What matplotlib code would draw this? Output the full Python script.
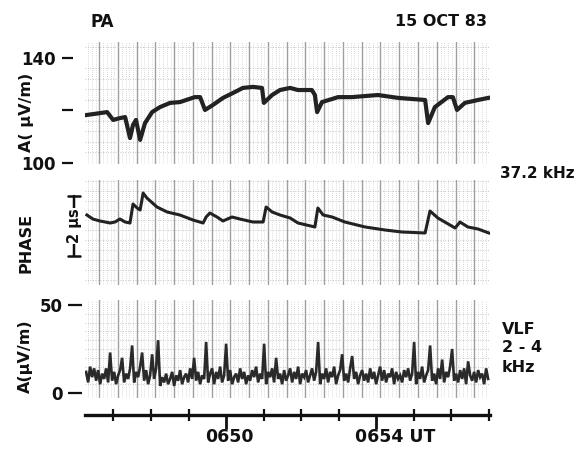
import numpy as np
import matplotlib
matplotlib.use("Agg")
import matplotlib.pyplot as plt
from matplotlib.ticker import MultipleLocator, FixedLocator, NullFormatter
import matplotlib.transforms as mtransforms

# ---------------- data (read from the recording) ----------------
# time in minutes after 06:00 UT
amp_t = [46.29, 46.64, 46.83, 46.99, 47.17, 47.31, 47.44, 47.52, 47.60, 47.71,
         47.84, 48.03, 48.24, 48.51, 48.77, 49.17, 49.31, 49.44, 49.65, 49.92,
         50.19, 50.45, 50.72, 50.96, 51.01, 51.23, 51.44, 51.71, 51.92, 52.29,
         52.37, 52.43, 52.56, 52.99, 53.36, 54.05, 54.59, 55.31, 55.39, 55.57,
         55.92, 56.05, 56.16, 56.37, 56.72, 56.99]
amp_v = [118.3, 119.0, 119.4, 116.4, 117.1, 117.5, 109.5, 114.5, 116.4, 108.8,
         115.2, 119.4, 121.3, 122.9, 123.2, 125.1, 125.1, 120.2, 122.1, 124.8,
         126.7, 128.6, 129.0, 128.6, 122.9, 125.9, 127.8, 128.6, 127.8, 127.8,
         125.9, 119.4, 123.2, 125.1, 125.1, 125.9, 124.8, 124.0, 115.2, 121.3,
         125.1, 125.1, 120.2, 122.9, 124.0, 124.8]

phase_t = [46.29, 46.45, 46.64, 46.91, 47.04, 47.17, 47.31, 47.44, 47.52, 47.63,
           47.71, 47.79, 47.89, 48.16, 48.43, 48.77, 49.12, 49.39, 49.47, 49.57,
           49.76, 49.92, 50.16, 50.37, 50.72, 50.99, 51.07, 51.23, 51.44, 51.71,
           51.92, 52.37, 52.45, 52.59, 52.83, 53.17, 53.71, 54.24, 54.69, 55.31,
           55.44, 55.65, 56.11, 56.24, 56.45, 56.72, 57.01]
phase_us = [1.167, 1.033, 0.967, 0.900, 0.933, 1.033, 0.933, 0.900, 1.533, 1.400,
            1.333, 1.900, 1.733, 1.433, 1.267, 1.167, 1.000, 0.900, 1.100, 1.233,
            1.100, 0.967, 1.100, 1.033, 0.933, 0.933, 1.433, 1.267, 1.167, 1.067,
            0.900, 0.767, 1.400, 1.167, 1.100, 0.933, 0.767, 0.667, 0.600, 0.567,
            1.300, 1.067, 0.733, 0.933, 0.767, 0.700, 0.567]

# VLF 2-4 kHz amplitude (uV/m), evenly sampled from 06:46.3 to 06:57.0
vlf_start, vlf_end = 46.27, 56.99
vlf_v = [12, 6, 15, 9, 14, 7, 13, 5, 11, 8, 14, 6, 23, 7, 12, 5, 10, 13, 20, 6,
         11, 8, 14, 27, 6, 12, 9, 15, 23, 7, 13, 5, 10, 22, 8, 14, 30, 4, 9, 6,
         11, 5, 8, 12, 4, 10, 7, 13, 5, 9, 11, 6, 14, 8, 20, 7, 12, 5, 10, 8,
         29, 6, 11, 14, 5, 12, 8, 15, 6, 10, 28, 7, 13, 5, 9, 11, 6, 14, 8, 12,
         5, 10, 7, 13, 9, 15, 6, 11, 8, 28, 5, 12, 9, 14, 6, 20, 8, 11, 5, 13,
         7, 10, 14, 6, 12, 8, 15, 5, 11, 9, 13, 6, 10, 14, 7, 12, 29, 5, 11, 8,
         14, 6, 12, 9, 15, 5, 10, 13, 22, 7, 11, 6, 14, 21, 8, 12, 5, 10, 13, 7,
         11, 6, 14, 8, 12, 5, 10, 15, 7, 13, 6, 11, 9, 14, 5, 12, 8, 10, 6, 13,
         9, 14, 7, 11, 29, 5, 12, 8, 15, 6, 10, 13, 27, 7, 11, 5, 14, 8, 19, 6,
         12, 9, 15, 25, 7, 11, 6, 13, 8, 14, 5, 18, 10, 7, 12, 6, 13, 9, 11, 5, 14, 8]

time_minor = [47, 48, 49, 51, 52, 53, 55, 56, 57]
time_major = [50, 54]
time_labels = ["0650", "0654 UT"]

# ---------------- figure ----------------
W, H = 582, 449
fig = plt.figure(figsize=(W / 100, H / 100), dpi=100)
fig.patch.set_facecolor("white")
FONT = dict(family="DejaVu Sans", fontweight="bold", color="#111111")


def rect(x0, y0, x1, y1):
    return [x0 / W, 1 - y1 / H, (x1 - x0) / W, (y1 - y0) / H]


XMIN, XMAX = 46.24, 57.04
paper_lines = np.arange(46.62, 57.0, 0.5)
paper_fine = np.arange(46.32, 57.0, 0.1)


def paper(ax, ystep):
    for s in ax.spines.values():
        s.set_visible(False)
    ax.set_xlim(XMIN, XMAX)
    ax.xaxis.set_major_locator(FixedLocator(paper_lines))
    ax.xaxis.set_minor_locator(FixedLocator(paper_fine))
    ax.xaxis.set_major_formatter(NullFormatter())
    ax.tick_params(axis="x", which="both", length=0)
    ax.grid(which="major", axis="x", color="#7f7f7f", lw=1.0, alpha=0.75)
    ax.grid(which="minor", axis="x", color="#bbbbbb", lw=0.5, ls=(0, (1, 2)))
    ax.yaxis.set_minor_locator(MultipleLocator(ystep))
    ax.grid(which="minor", axis="y", color="#b5b5b5", lw=0.6, ls=(0, (1, 2)))
    ax.tick_params(axis="y", which="minor", length=0)
    ax.set_axisbelow(True)


# --- top: amplitude 37.2 kHz ---
ax1 = fig.add_axes(rect(85, 42, 490, 164))
paper(ax1, 4)
ax1.set_ylim(100 + (163 - 164) / 2.625, 100 + (163 - 42) / 2.625)
ax1.plot(amp_t, amp_v, color="#222222", lw=3.0, solid_joinstyle="round")
ax1.set_yticks([100, 120, 140], labels=["100", "", "140"])
ax1.spines["left"].set_position(("outward", 9))
ax1.tick_params(axis="y", which="major", length=8, width=1.6, pad=4,
                labelsize=12, colors="#111111")
for lab in ax1.get_yticklabels():
    lab.set_fontweight("bold")

# --- middle: phase ---
ax2 = fig.add_axes(rect(85, 180, 490, 285))
paper(ax2, 0.33)
ax2.set_ylim((250 - 285) / 30, (250 - 180) / 30)
ax2.plot(phase_t, phase_us, color="#222222", lw=2.2, solid_joinstyle="round")
ax2.set_yticks([])
trans2 = mtransforms.blended_transform_factory(ax2.transAxes, ax2.transData)
xa = (74 - 85) / 405
ax2.annotate("", xy=(xa, 1.8), xytext=(xa, -0.2), xycoords=trans2,
             textcoords=trans2,
             arrowprops=dict(arrowstyle="|-|", lw=1.8, color="#111111",
                             mutation_scale=4, shrinkA=0, shrinkB=0),
             annotation_clip=False)
ax2.text(xa, 0.8, "2 µs", transform=trans2, rotation=90, ha="center",
         va="center", fontsize=10.5, clip_on=False,
         bbox=dict(facecolor="white", edgecolor="none", pad=0.5), **FONT)

# --- bottom: VLF 2-4 kHz ---
ax3 = fig.add_axes(rect(85, 300, 490, 398))
paper(ax3, 5)
ax3.set_ylim((393 - 398) / 1.76, (393 - 300) / 1.76)
vlf_t = np.linspace(vlf_start, vlf_end, len(vlf_v))
ax3.plot(vlf_t, vlf_v, color="#2a2a2a", lw=1.9, solid_joinstyle="miter")
ax3.set_yticks([0, 50], labels=["0", "50"])
ax3.spines["left"].set_position(("outward", 2))
ax3.tick_params(axis="y", which="major", length=10, width=1.6, pad=4,
                labelsize=12, colors="#111111")
for lab in ax3.get_yticklabels():
    lab.set_fontweight("bold")

# --- time axis ---
axt = fig.add_axes(rect(85, 414, 490, 415))
axt.set_xlim(XMIN, XMAX)
axt.set_yticks([])
for k in ("top", "left", "right"):
    axt.spines[k].set_visible(False)
axt.spines["bottom"].set_linewidth(2.4)
axt.spines["bottom"].set_color("#111111")
axt.patch.set_visible(False)
axt.set_xticks(time_major, labels=["", ""])
axt.set_xticks(time_minor, minor=True)
axt.tick_params(axis="x", which="minor", direction="inout", length=8,
                width=1.6, colors="#111111")
axt.tick_params(axis="x", which="major", direction="out", length=10,
                width=2.0, colors="#111111")
for tv, tl in zip(time_major, time_labels):
    axt.annotate(tl, xy=(tv, 0), xycoords=("data", "axes fraction"),
                 xytext=(-15, -16), textcoords="offset points",
                 ha="left", va="center", fontsize=12.5,
                 annotation_clip=False, **FONT)

# --- texts ---
def ftext(x, y, s, **kw):
    opts = dict(FONT)
    opts.update(kw)
    fig.text(x / W, 1 - y / H, s, **opts)

ftext(90, 22, "PA", fontsize=12, ha="left", va="center")
ftext(487, 22, "15 OCT 83", fontsize=11.5, ha="right", va="center")
ftext(500, 174, "37.2 kHz", fontsize=11, ha="left", va="center")
ftext(502, 329, "VLF", fontsize=11.5, ha="left", va="center")
ftext(502, 348, "2 - 4", fontsize=11.5, ha="left", va="center")
ftext(502, 367, "kHz", fontsize=11.5, ha="left", va="center")
ftext(26, 112, "A( µV/m)", fontsize=11.5, rotation=90, ha="center", va="center")
ftext(26, 243, "PHASE", fontsize=11.5, rotation=90, ha="center", va="center")
ftext(25, 356, "A(µV/m)", fontsize=11.5, rotation=90, ha="center", va="center")

fig.savefig("out.png", dpi=100, facecolor="white")
